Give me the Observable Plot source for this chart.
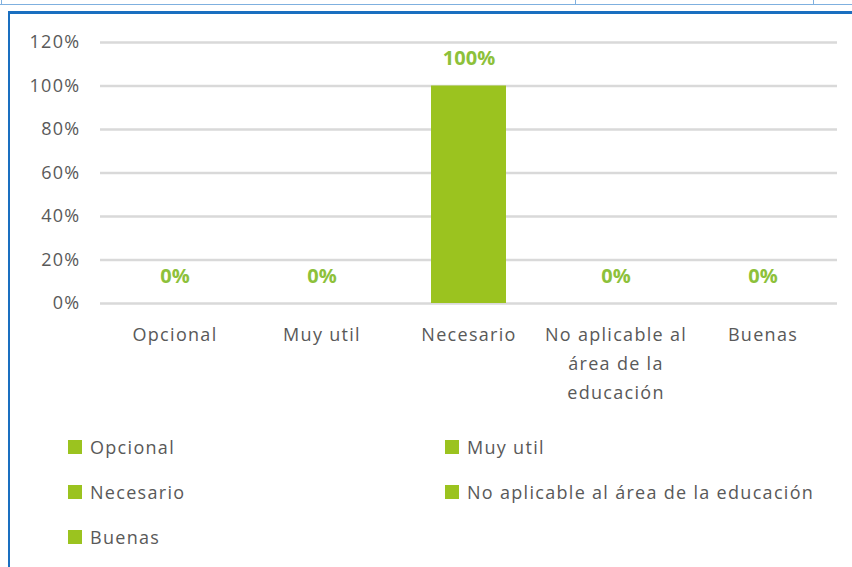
<!DOCTYPE html>
<html>
<head>
<meta charset="utf-8">
<script src="https://cdn.jsdelivr.net/npm/d3@7"></script>
<script src="https://cdn.jsdelivr.net/npm/@observablehq/plot@0.6"></script>
<style>
  html, body { margin: 0; padding: 0; background: #fff; }
  body { width: 852px; height: 567px; position: relative; overflow: hidden; font-family: "Open Sans", sans-serif; }
  .tline { position: absolute; background: #7fb0df; }
  #frame { position: absolute; left: 8px; top: 11px; right: -4px; bottom: -4px;
           border-top: 3px solid #1a6fc0; border-left: 2px solid #1a6fc0; background: #fff; }
  #chart { position: absolute; left: 0; top: 0; }
  #chart svg g[aria-label="y-axis tick label"] text,
  #chart svg g[aria-label="x-axis tick label"] text { letter-spacing: 1.3px; }
  .leg { position: absolute; display: flex; align-items: center; font-size: 18px; color: #595959; letter-spacing: 1.3px; white-space: nowrap; }
  .leg .sw { width: 14px; height: 14px; background: #9bc31f; margin-right: 8px; }
</style>
</head>
<body>
<div class="tline" style="left:0;top:4px;width:852px;height:1px"></div>
<div class="tline" style="left:1px;top:0;width:1px;height:5px"></div>
<div class="tline" style="left:575px;top:0;width:1px;height:5px"></div>
<div class="tline" style="left:813px;top:0;width:1px;height:5px"></div>
<div id="frame"></div>
<div id="chart"></div>
<div id="legend"></div>
<script>
const categories = ["Opcional", "Muy util", "Necesario", "No aplicable al área de la educación", "Buenas"];
const values = [0, 0, 1, 0, 0];
const xTickLabels = ["Opcional", "Muy util", "Necesario", "No aplicable al\nárea de la\neducación", "Buenas"];
const yTicks = [0, 0.2, 0.4, 0.6, 0.8, 1.0, 1.2];
const legendLabels = ["Opcional", "Muy util", "Necesario", "No aplicable al área de la educación", "Buenas"];

const barColor = "#9bc31f";
const labelColor = "#8dc13a";
const data = categories.map((c, i) => ({category: c, value: values[i]}));
const tickMap = new Map(categories.map((c, i) => [c, xTickLabels[i]]));

const chart = Plot.plot({
  width: 852,
  height: 420,
  marginLeft: 100,
  marginRight: 15,
  marginTop: 42,
  marginBottom: 117,
  style: {fontFamily: "Open Sans", fontSize: "18px", color: "#595959", background: "transparent", overflow: "visible"},
  x: {domain: categories, paddingInner: 0.49, paddingOuter: 0.245, axis: null},
  y: {domain: [0, 1.2], axis: null},
  marks: [
    Plot.ruleY(yTicks, {stroke: "#d9d9d9", strokeWidth: 2.5}),
    Plot.barY(data, {x: "category", y: "value", fill: barColor}),
    Plot.text(data, {x: "category", y: "value", text: d => d3.format(".0%")(d.value), dy: -27, fill: labelColor, fontWeight: "bold", fontSize: 20}),
    Plot.axisY({ticks: yTicks, tickSize: 0, tickPadding: 20, tickFormat: d3.format(".0%"), fontSize: 18, label: null}),
    Plot.axisX({tickSize: 0, tickPadding: 17, lineHeight: 1.61, fontSize: 18, label: null, tickFormat: d => tickMap.get(d)})
  ]
});
document.getElementById("chart").appendChild(chart);

const legend = document.getElementById("legend");
legendLabels.forEach((label, i) => {
  const col = i % 2, row = Math.floor(i / 2);
  const el = document.createElement("div");
  el.className = "leg";
  el.style.left = (68 + col * 377) + "px";
  el.style.top = (447 + row * 45 - 13) + "px";
  el.style.height = "26px";
  el.innerHTML = `<div class="sw"></div><span>${label}</span>`;
  legend.appendChild(el);
});
</script>
</body>
</html>
